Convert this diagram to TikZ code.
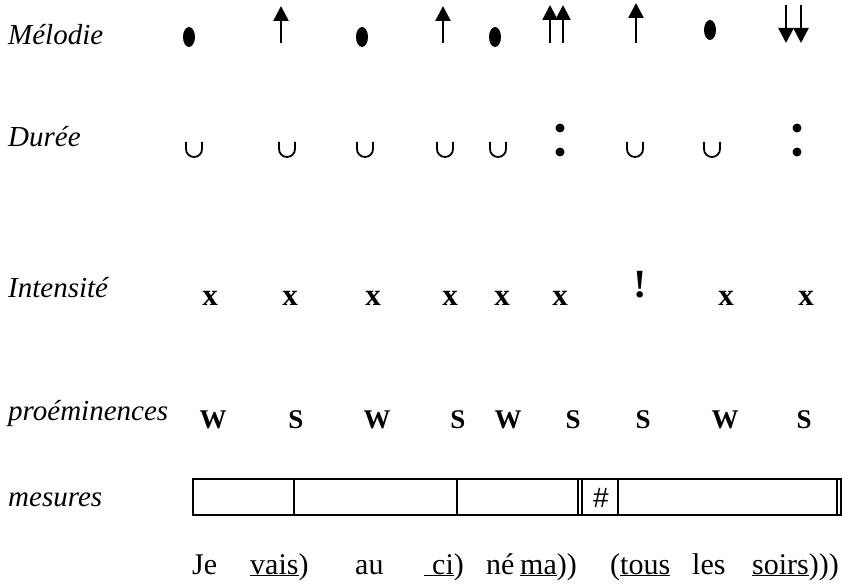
\documentclass[tikz,border=0pt]{standalone}
\usepackage{fontspec}
\setmainfont{Liberation Serif}
\newfontfamily\hashfont{Liberation Sans}
\usetikzlibrary{arrows.meta}
\begin{document}
\begin{tikzpicture}[x=1pt,y=1pt,
  rowlabel/.style={anchor=base west,inner sep=0pt,font=\fontsize{29}{32}\selectfont\itshape},
  sign/.style={anchor=base,inner sep=0pt,font=\fontsize{31}{34}\selectfont\bfseries},
  prom/.style={anchor=base,inner sep=0pt,font=\fontsize{27}{30}\selectfont\bfseries},
  word/.style={anchor=base west,inner sep=0pt,font=\fontsize{30}{33}\selectfont},
  pitch/.style={line width=2.6pt,-{Triangle[length=15pt,width=15pt]}},
  cup/.style={line width=1.8pt},
  bar/.style={line width=1.1pt}]
\useasboundingbox (0,0) rectangle (848,-585);

% row labels
\node[rowlabel] (lmel) at (8,-45) {Mélodie};
\node[rowlabel] (ldur) at (8,-147) {Durée};
\node[rowlabel] (lint) at (8,-298) {Intensité};
\node[rowlabel] (lpro) at (8,-420) {proéminences};
\node[rowlabel] (lmes) at (8,-506) {mesures};

% melody: level dots and rising / falling arrows
\foreach \x/\y in {189/37,362/37,495/37,710/30}
  \fill (\x,-\y) ellipse [x radius=6,y radius=10];
\foreach \x/\t in {281/6,443/6,550/5,563/5,636/3}
  \draw[pitch] (\x,-43) -- (\x,-\t);
\foreach \x in {786,801}
  \draw[pitch] (\x,-5) -- (\x,-43);

% duration: short (cup) and long (colon)
\foreach \x in {194,287,365,445,498,635,712}
  \draw[cup] (\x-8,-142) -- (\x-8,-149) arc[start angle=180,end angle=360,radius=8] -- (\x+8,-142);
\foreach \x in {560,797}{
  \fill (\x,-128) circle (4.5);
  \fill (\x,-152) circle (4.5);
}

% intensity
\foreach \x [count=\i] in {210,290,373,450,502,560,726,806}
  \node[sign] (x\i) at (\x,-305) {x};
\node[sign,font=\fontsize{40}{42}\selectfont\bfseries] (excl) at (640,-298) {!};

% prominences
\foreach \x/\l [count=\i] in {213/W,296/S,377/W,458/S,508/W,573/S,643/S,725/W,804/S}
  \node[prom] (p\i) at (\x,-428) {\l};

% measures
\draw[bar] (193,-479) rectangle (841,-515);
\foreach \x in {294,457,578,582,618,837}
  \draw[bar] (\x,-479) -- (\x,-515);
\node[anchor=center,inner sep=0pt,font=\hashfont\fontsize{28}{30}\selectfont] (hash) at (601,-498) {\#};

% syllables
\node[word] (w1) at (192,-574) {Je};
\node[word] (w2) at (250,-574) {\underline{vais})};
\node[word] (w3) at (355,-574) {au};
\node[word] (w4) at (424,-574) {\underline{\hspace{8pt}ci})};
\node[word] (w5) at (486,-574) {né};
\node[word] (w6) at (520,-574) {\underline{ma}))};
\node[word] (w7) at (610,-574) {(\underline{tous}};
\node[word] (w8) at (692,-574) {les};
\node[word] (w9) at (752,-574) {\underline{soirs})))};
\end{tikzpicture}
\end{document}
